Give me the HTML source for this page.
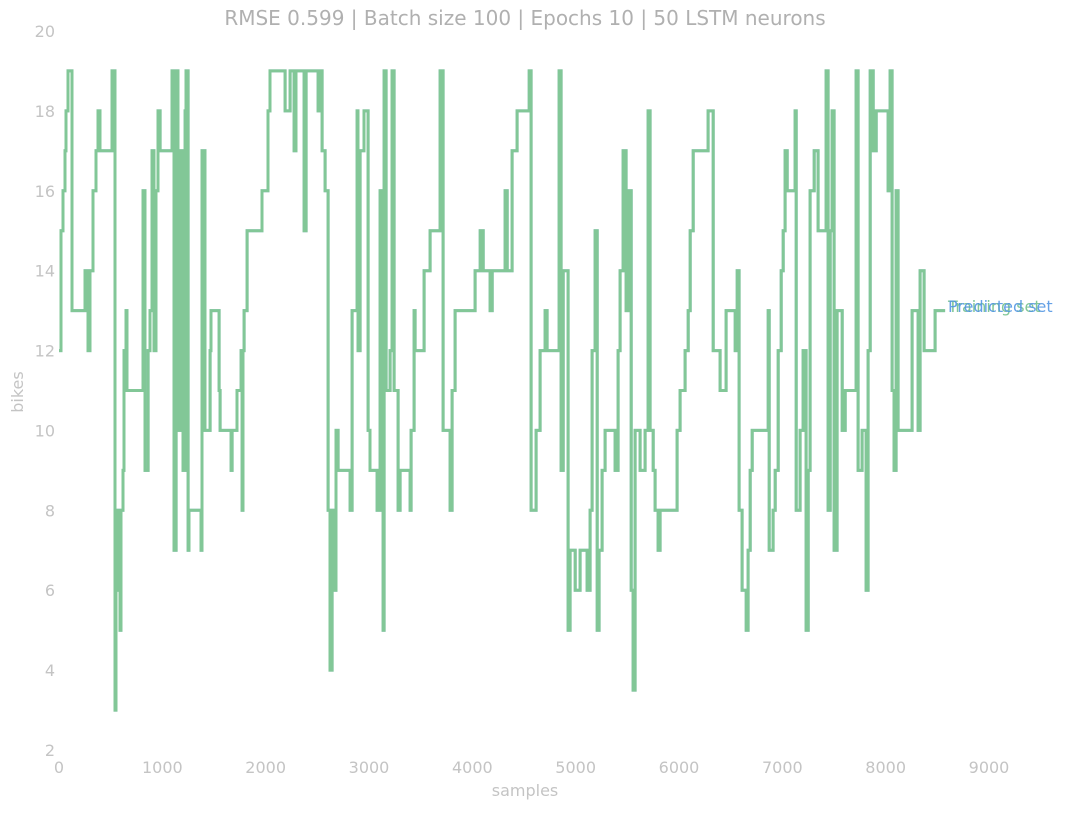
<!DOCTYPE html>
<html><head><meta charset="utf-8"><style>
html,body{margin:0;padding:0;background:#fff;}
svg text{font-family:"DejaVu Sans","Liberation Sans",sans-serif;}
</style></head><body>
<svg id="chart" width="1066" height="810" xmlns="http://www.w3.org/2000/svg">
<text x="525" y="25" text-anchor="middle" font-size="20" fill="#b0b0b0">RMSE 0.599 | Batch size 100 | Epochs 10 |  50 LSTM neurons</text>
<g id="yticks"></g>
<g id="xticks"></g>
<text x="525" y="796" text-anchor="middle" font-size="16" fill="#c4c4c4">samples</text>
<text transform="translate(23,392) rotate(-90)" text-anchor="middle" font-size="16" fill="#c4c4c4">bikes</text>
<g id="series"></g>
<text x="948" y="312" font-size="16" fill="#82c797">Training set</text>
<text x="948" y="312" font-size="16" fill="#4a90e2" fill-opacity="0.85">Predicted set</text>
</svg>
<script>
const xTicks=[0,1000,2000,3000,4000,5000,6000,7000,8000,9000];
const yTicks=[2,4,6,8,10,12,14,16,18,20];
const samples=[0,19,39,58,68,87,126,252,281,300,329,358,377,397,513,542,552,571,590,600,619,629,648,658,813,832,862,881,900,919,939,958,978,1094,1113,1133,1152,1171,1200,1220,1229,1249,1258,1374,1384,1413,1462,1471,1549,1559,1665,1675,1723,1762,1772,1781,1791,1820,1965,2023,2042,2188,2236,2275,2294,2372,2391,2507,2526,2546,2575,2604,2623,2643,2662,2681,2701,2817,2836,2885,2894,2914,2952,2991,3010,3078,3107,3136,3146,3165,3204,3223,3243,3282,3301,3398,3407,3436,3446,3533,3591,3688,3717,3785,3804,3833,4027,4076,4105,4172,4192,4317,4337,4385,4433,4550,4569,4617,4656,4704,4724,4840,4859,4879,4927,4946,4995,5043,5111,5140,5159,5188,5208,5227,5256,5285,5382,5411,5430,5459,5488,5517,5537,5556,5575,5624,5672,5701,5720,5750,5769,5798,5817,5982,6011,6059,6089,6108,6137,6282,6331,6398,6456,6544,6563,6582,6611,6650,6669,6689,6708,6863,6873,6911,6931,6960,6989,7008,7027,7047,7124,7134,7172,7201,7230,7250,7269,7308,7346,7424,7443,7463,7482,7501,7530,7579,7608,7714,7733,7772,7811,7830,7850,7879,7908,8024,8043,8062,8081,8101,8120,8256,8314,8333,8372,8478,8575];
const trainingValues=[12,15,16,17,18,19,13,14,12,14,16,17,18,17,19,3,8,6,5,8,9,12,13,11,16,9,12,13,17,12,16,18,17,19,7,19,10,17,9,18,19,7,8,7,17,10,12,13,11,10,9,10,11,12,8,12,13,15,16,18,19,18,19,17,19,15,19,18,19,17,16,8,4,8,6,10,9,8,13,18,12,17,18,10,9,8,16,5,19,11,12,19,11,8,9,8,10,13,12,14,15,19,10,8,11,13,14,15,14,13,14,16,14,17,18,19,8,10,12,13,12,19,9,14,5,7,6,7,6,8,12,15,5,7,9,10,9,12,14,17,13,16,6,3.5,10,9,10,18,10,9,8,7,8,10,11,12,13,15,17,18,12,11,13,12,14,8,6,5,7,9,10,13,7,8,9,12,14,15,17,16,18,8,10,12,5,9,16,17,15,19,8,15,18,7,13,10,11,19,9,10,6,12,19,17,18,16,19,11,9,16,10,13,10,14,12,13,13];
const predictedValues=[12,15,16,17,18,19,13,14,12,14,16,17,18,17,19,3,8,6,5,8,9,12,13,11,16,9,12,13,17,12,16,18,17,19,7,19,10,17,9,18,19,7,8,7,17,10,12,13,11,10,9,10,11,12,8,12,13,15,16,18,19,18,19,17,19,15,19,18,19,17,16,8,4,8,6,10,9,8,13,18,12,17,18,10,9,8,16,5,19,11,12,19,11,8,9,8,10,13,12,14,15,19,10,8,11,13,14,15,14,13,14,16,14,17,18,19,8,10,12,13,12,19,9,14,5,7,6,7,6,8,12,15,5,7,9,10,9,12,14,17,13,16,6,3.5,10,9,10,18,10,9,8,7,8,10,11,12,13,15,17,18,12,11,13,12,14,8,6,5,7,9,10,13,7,8,9,12,14,15,17,16,18,8,10,12,5,9,16,17,15,19,8,15,18,7,13,10,11,19,9,10,6,12,19,17,18,16,19,11,9,16,10,13,10,14,12,13,13];

const X0=59,X1=989,XMAX=9000,Y0=750,Y1=31,YMIN=2,YMAX=20;
function sx(v){return X0+(v/XMAX)*(X1-X0);}
function sy(v){return Y0-(v-YMIN)/(YMAX-YMIN)*(Y0-Y1);}
const NS="http://www.w3.org/2000/svg";
const yg=document.getElementById('yticks');
yTicks.forEach(t=>{
  const el=document.createElementNS(NS,'text');
  
  
  el.setAttribute('x',55);el.setAttribute('y',sy(t)+6);
  el.setAttribute('text-anchor','end');el.setAttribute('font-size','16');el.setAttribute('fill','#c4c4c4');
  el.textContent=t;yg.appendChild(el);
});
const xg=document.getElementById('xticks');
xTicks.forEach(t=>{
  const el=document.createElementNS(NS,'text');
  
  
  el.setAttribute('x',sx(t));el.setAttribute('y',773);
  el.setAttribute('text-anchor','middle');el.setAttribute('font-size','16');el.setAttribute('fill','#c4c4c4');
  el.textContent=t;xg.appendChild(el);
});
function stepPath(xs,ys){
  let d='M'+sx(xs[0]).toFixed(1)+','+sy(ys[0]).toFixed(1);
  for(let i=1;i<xs.length;i++){
    d+='H'+sx(xs[i]).toFixed(1)+'V'+sy(ys[i]).toFixed(1);
  }
  return d;
}
const sg=document.getElementById('series');
const p1=document.createElementNS(NS,'path');


p1.setAttribute('d',stepPath(samples,predictedValues));
p1.setAttribute('fill','none');p1.setAttribute('stroke','#8fb9d6');p1.setAttribute('stroke-width','3');
sg.appendChild(p1);
const p2=document.createElementNS(NS,'path');


p2.setAttribute('d',stepPath(samples,trainingValues));
p2.setAttribute('fill','none');p2.setAttribute('stroke','#82c797');p2.setAttribute('stroke-width','3');
sg.appendChild(p2);
</script>
</body></html>
